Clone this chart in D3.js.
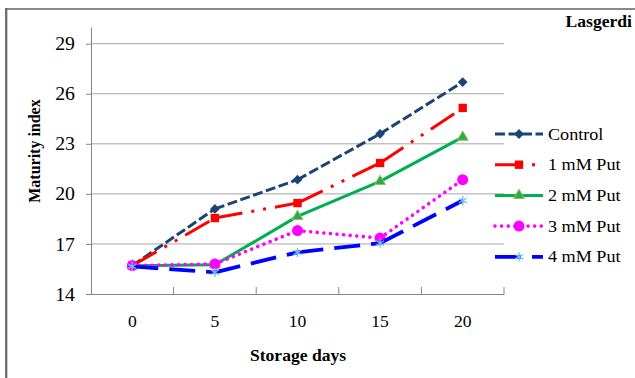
<!DOCTYPE html>
<html>
<head>
<meta charset="utf-8">
<script src="https://cdn.jsdelivr.net/npm/d3@7"></script>
<style>
  html, body { margin: 0; padding: 0; background: #fff; }
  svg { display: block; }
  text { font-family: "Liberation Serif", "Times New Roman", serif; fill: #000; }
</style>
</head>
<body>
<svg id="chart" width="635" height="378"></svg>
<script>
// Storage days (category axis)
const days = ["0", "5", "10", "15", "20"];

// Maturity index per treatment
const control = [15.7, 19.1, 20.85, 23.6, 26.7];
const put1 = [15.7, 18.55, 19.45, 21.85, 25.15];
const put2 = [15.7, 15.75, 18.65, 20.75, 23.4];
const put3 = [15.7, 15.8, 17.8, 17.35, 20.85];
const put4 = [15.65, 15.3, 16.5, 17.05, 19.6];

const seriesNames = ["Control", "1 mM Put", "2 mM Put", "3 mM Put", "4 mM Put"];
const yTicks = [14, 17, 20, 23, 26, 29];

const FONT = "'Liberation Serif', 'Times New Roman', serif";

const series = [
  { name: seriesNames[0], values: control, color: "#1B4474", width: 3, dash: "10,3.5", cap: "butt",
    symbol: d3.symbolSquare, size: 48, rotate: 45, fill: "#1B4474", stroke: "none" },
  { name: seriesNames[1], values: put1, color: "#FF0000", width: 3, dash: "28,9,3,9,3,9", cap: "butt",
    symbol: d3.symbolSquare, size: 70, rotate: 0, fill: "#FF0000", stroke: "none" },
  { name: seriesNames[2], values: put2, color: "#00B050", width: 3, dash: null, cap: "butt",
    symbol: d3.symbolTriangle, size: 50, rotate: 0, fill: "#22B04A", stroke: "#9BBB59" },
  { name: seriesNames[3], values: put3, color: "#FF00FF", width: 3.6, dash: "0.01,6.6", cap: "round",
    symbol: d3.symbolCircle, size: 95, rotate: 0, fill: "#FF00FF", stroke: "none" },
  { name: seriesNames[4], values: put4, color: "#0000FF", width: 3.8, dash: "26,11", cap: "butt",
    symbol: d3.symbolAsterisk, size: 60, rotate: 0, fill: "none", stroke: "#6EC0E8" }
];

const svg = d3.select("#chart").style("font-family", FONT);
const plot = { left: 91, right: 504, top: 27, bottom: 294 };
const sx = 1.1; // horizontal stretch of all lettering

const x = d3.scaleBand().domain(days).range([plot.left, plot.right]).padding(0);
const y = d3.scaleLinear().domain([14, 30]).range([plot.bottom, plot.top]);

// Outer frame (top and left edges)
svg.append("line").attr("x1", 5).attr("x2", 635).attr("y1", 9).attr("y2", 9)
  .attr("stroke", "#8a8a8a").attr("stroke-width", 1.8);
svg.append("line").attr("x1", 6.2).attr("x2", 6.2).attr("y1", 8).attr("y2", 378)
  .attr("stroke", "#6e6e6e").attr("stroke-width", 2.3);

// Horizontal gridlines
svg.append("g")
  .selectAll("line")
  .data(yTicks.filter(t => t > 14))
  .join("line")
  .attr("x1", plot.left).attr("x2", plot.right)
  .attr("y1", d => y(d)).attr("y2", d => y(d))
  .attr("stroke", "#a6a6a6").attr("stroke-width", 1);

// Y axis
const yAxis = svg.append("g")
  .attr("transform", `translate(${plot.left},0)`)
  .call(d3.axisLeft(y).tickValues(yTicks).tickSize(5).tickSizeOuter(0).tickFormat(d3.format("d")));
yAxis.attr("font-family", null);
yAxis.select(".domain").attr("stroke", "#868686");
yAxis.selectAll(".tick line").attr("stroke", "#868686");
yAxis.selectAll(".tick text")
  .attr("x", -16 / sx).attr("dy", "0.34em")
  .attr("transform", `scale(${sx},1)`)
  .style("font-size", "18px").style("font-family", FONT).attr("fill", "#000");

// X axis: ticks sit between categories and point up into the plot
const xAxis = svg.append("g")
  .attr("transform", `translate(0,${plot.bottom})`)
  .call(d3.axisBottom(x).tickSize(0).tickSizeOuter(0));
xAxis.attr("font-family", null);
xAxis.select(".domain").attr("stroke", "#868686");
xAxis.selectAll(".tick text")
  .attr("y", 0).attr("dy", 0)
  .attr("transform", `translate(0,33) scale(${sx},1)`)
  .style("font-size", "16px").style("font-family", FONT).attr("fill", "#000");
const bounds = days.map(d => x(d) + x.bandwidth()).slice(0, -1).concat([plot.right]);
svg.append("g").selectAll("line")
  .data(bounds)
  .join("line")
  .attr("x1", d => d).attr("x2", d => d)
  .attr("y1", plot.bottom - 7).attr("y2", plot.bottom)
  .attr("stroke", "#868686").attr("stroke-width", 1);

// Axis titles
svg.append("text")
  .attr("transform", `translate(298,361) scale(${sx},1)`)
  .attr("text-anchor", "middle")
  .style("font-family", FONT).style("font-size", "16px").style("font-weight", "bold")
  .text("Storage days");
svg.append("text")
  .attr("transform", `translate(40,151) scale(${sx},1) rotate(-90)`)
  .attr("text-anchor", "middle")
  .style("font-family", FONT).style("font-size", "16px").style("font-weight", "bold")
  .text("Maturity index");

// Chart title
svg.append("text")
  .attr("transform", `translate(632,27) scale(${sx},1)`)
  .attr("text-anchor", "end")
  .style("font-family", FONT).style("font-size", "16px").style("font-weight", "bold")
  .text("Lasgerdi");

// Series lines (dash pattern restarts at every data point) and markers
const cx = d => x(d) + x.bandwidth() / 2;
const lineGen = d3.line().x(p => cx(p[0])).y(p => y(p[1]));

function drawMarker(g, s, px, py) {
  g.append("path")
    .attr("d", d3.symbol().type(s.symbol).size(s.size)())
    .attr("transform", `translate(${px},${py}) rotate(${s.rotate})`)
    .attr("fill", s.fill)
    .attr("stroke", s.stroke)
    .attr("stroke-width", s.symbol === d3.symbolAsterisk ? 1.3 : 1);
}

series.forEach(s => {
  const g = svg.append("g");
  const pts = days.map((d, i) => [d, s.values[i]]);
  for (let i = 0; i < pts.length - 1; i++) {
    g.append("path")
      .attr("d", lineGen([pts[i], pts[i + 1]]))
      .attr("fill", "none")
      .attr("stroke", s.color)
      .attr("stroke-width", s.width)
      .attr("stroke-linecap", s.cap)
      .attr("stroke-dasharray", s.dash);
  }
  pts.forEach(p => drawMarker(g, s, cx(p[0]), y(p[1])));
});

// Legend
const legend = svg.append("g");
const legendTop = 134, legendStep = 30.7;
series.forEach((s, i) => {
  const ly = legendTop + i * legendStep;
  const g = legend.append("g");
  g.append("path")
    .attr("d", d3.line()([[495, ly], [543, ly]]))
    .attr("fill", "none")
    .attr("stroke", s.color)
    .attr("stroke-width", s.width)
    .attr("stroke-linecap", s.cap)
    .attr("stroke-dasharray", s.dash);
  drawMarker(g, s, 519, ly);
  g.append("text")
    .attr("transform", `translate(548,${ly + 5.5}) scale(${sx},1)`)
    .style("font-family", FONT)
    .style("font-size", "16.5px")
    .text(s.name);
});
</script>
</body>
</html>
